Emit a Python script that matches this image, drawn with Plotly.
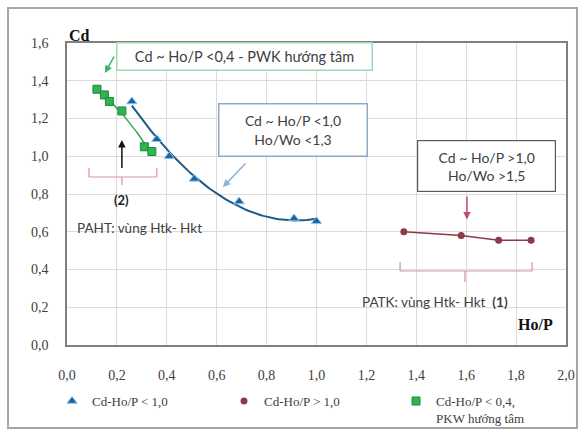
import numpy as np
import plotly.graph_objects as go

# ---- data ----
blue_x = [0.26, 0.36, 0.41, 0.51, 0.69, 0.91, 1.00]
blue_y = [1.29, 1.09, 1.00, 0.88, 0.76, 0.67, 0.655]

red_x = [1.35, 1.58, 1.73, 1.86]
red_y = [0.60, 0.58, 0.555, 0.555]

green_x = [0.12, 0.15, 0.17, 0.22, 0.31, 0.34]
green_y = [1.355, 1.325, 1.29, 1.24, 1.05, 1.025]

legend_names = ["Cd-Ho/P < 1,0", "Cd-Ho/P > 1,0", "Cd-Ho/P < 0,4,<br>PKW hướng tâm"]
x_ticks = [0.0, 0.2, 0.4, 0.6, 0.8, 1.0, 1.2, 1.4, 1.6, 1.8, 2.0]
y_ticks = [0.0, 0.2, 0.4, 0.6, 0.8, 1.0, 1.2, 1.4, 1.6]

# trendlines (polynomial fits, as in the spreadsheet chart)
bfit = np.polyfit(blue_x, blue_y, 2)
bx = np.linspace(min(blue_x), max(blue_x), 60)
by = np.polyval(bfit, bx)
gfit = np.polyfit(green_x, green_y, 2)
gx = np.linspace(min(green_x), max(green_x), 40)
gy = np.polyval(gfit, gx)

BLUE = "#1f62a0"
RED = "#8b3a48"
GREEN = "#2fb44f"
TXT = "#404040"
SANS = "Lato"
SERIF = "Liberation Serif"

fig = go.Figure()
fig.add_trace(go.Scatter(x=bx, y=by, mode="lines", line=dict(color="#1d5a85", width=2),
                         showlegend=False, hoverinfo="skip"))
fig.add_trace(go.Scatter(x=gx, y=gy, mode="lines", line=dict(color="#3aa655", width=1.5),
                         showlegend=False, hoverinfo="skip"))
fig.add_trace(go.Scatter(x=red_x, y=red_y, mode="lines", line=dict(color=RED, width=1.5),
                         showlegend=False, hoverinfo="skip"))
fig.add_trace(go.Scatter(x=blue_x, y=blue_y, mode="markers", name=legend_names[0],
                         marker=dict(symbol="triangle-up", size=9, color=BLUE,
                                     line=dict(color="#8cc8ec", width=1))))
fig.add_trace(go.Scatter(x=red_x, y=red_y, mode="markers", name=legend_names[1],
                         marker=dict(symbol="circle", size=7, color=RED)))
fig.add_trace(go.Scatter(x=green_x, y=green_y, mode="markers", name=legend_names[2],
                         marker=dict(symbol="square", size=8, color=GREEN,
                                     line=dict(color="#1e8a3a", width=1))))

annots = []
# text boxes
annots.append(dict(x=0.713, y=1.53, xref="x", yref="y", showarrow=False,
                   text="Cd ~ Ho/P <0,4 - PWK hướng tâm", font=dict(family=SANS, size=14.5, color=TXT),
                   bordercolor="#9ddbb0", borderwidth=1.5, borderpad=0, bgcolor="white",
                   width=254, height=26))
annots.append(dict(x=0.906, y=1.139, xref="x", yref="y", showarrow=False,
                   text="Cd ~ Ho/P <1,0<br>Ho/Wo <1,3", font=dict(family=SANS, size=14, color=TXT),
                   bordercolor="#8fa9c4", borderwidth=1.5, borderpad=0, bgcolor="white",
                   width=147, height=51))
annots.append(dict(x=1.683, y=0.946, xref="x", yref="y", showarrow=False,
                   text="Cd ~ Ho/P >1,0<br>Ho/Wo >1,5", font=dict(family=SANS, size=14, color=TXT),
                   bordercolor="#595959", borderwidth=1.2, borderpad=0, bgcolor="white",
                   width=137, height=50))
# arrows
for (hx, hy, tx, ty, col) in [(0.152, 1.441, 0.192, 1.536, "#3cb371"),
                               (0.625, 0.837, 0.721, 0.970, "#8fb3d3"),
                               (1.603, 0.665, 1.603, 0.795, "#c0506a"),
                               (0.22, 1.086, 0.22, 0.93, "#111111")]:
    annots.append(dict(x=hx, y=hy, ax=tx, ay=ty, xref="x", yref="y", axref="x", ayref="y",
                       text="", showarrow=True, arrowhead=2, arrowsize=1, arrowwidth=1.5,
                       arrowcolor=col, standoff=0))
# region labels
annots.append(dict(x=0.22, y=0.768, xref="x", yref="y", showarrow=False, text="<b>(2)</b>",
                   font=dict(family=SANS, size=13, color="#222222")))
annots.append(dict(x=0.032, y=0.62, xref="x", yref="y", showarrow=False, xanchor="left",
                   text="PAHT: vùng Htk- Hkt", font=dict(family=SANS, size=13.5, color=TXT)))
annots.append(dict(x=1.174, y=0.228, xref="x", yref="y", showarrow=False, xanchor="left",
                   text="PATK: vùng Htk- Hkt  <b>(1)</b>", font=dict(family=SANS, size=13.5, color=TXT)))
# axis titles
annots.append(dict(x=0.0, y=1.06, xref="paper", yref="paper", showarrow=False, xanchor="left",
                   text="<b>Cd</b>", font=dict(family=SERIF, size=16, color="#111111")))
annots.append(dict(x=1.876, y=0.106, xref="x", yref="y", showarrow=False,
                   text="<b>Ho/P</b>", font=dict(family=SERIF, size=16, color="#111111")))

shapes = []
BR = "#d9939b"
# bracket (2)
shapes += [
    dict(type="line", x0=0.088, x1=0.36, y0=0.89, y1=0.89, line=dict(color=BR, width=1.2)),
    dict(type="line", x0=0.088, x1=0.088, y0=0.89, y1=0.938, line=dict(color=BR, width=1.2)),
    dict(type="line", x0=0.36, x1=0.36, y0=0.89, y1=0.938, line=dict(color=BR, width=1.2)),
    dict(type="line", x0=0.22, x1=0.22, y0=0.89, y1=0.848, line=dict(color=BR, width=1.2)),
]
# bracket (1)
shapes += [
    dict(type="line", x0=1.335, x1=1.864, y0=0.392, y1=0.392, line=dict(color=BR, width=1.2)),
    dict(type="line", x0=1.335, x1=1.335, y0=0.392, y1=0.44, line=dict(color=BR, width=1.2)),
    dict(type="line", x0=1.864, x1=1.864, y0=0.392, y1=0.44, line=dict(color=BR, width=1.2)),
    dict(type="line", x0=1.595, x1=1.595, y0=0.392, y1=0.334, line=dict(color=BR, width=1.2)),
]
# outer chart border
shapes.append(dict(type="rect", xref="paper", yref="paper", x0=-0.1182, x1=1.022,
                   y0=-0.2748, y1=1.1159, line=dict(color="#a6a6a6", width=2), layer="below"))
for s in shapes:
    s.setdefault("xref", "x")
    s.setdefault("yref", "y")

fig.update_layout(
    width=579, height=431, autosize=False,
    margin=dict(l=67, r=13, t=43, b=86, autoexpand=False),
    paper_bgcolor="white", plot_bgcolor="white",
    separators=", ",
    annotations=annots, shapes=shapes,
    showlegend=True,
    legend=dict(orientation="h", x=-0.03, y=-0.136, xanchor="left", yanchor="top",
                valign="top", font=dict(family=SERIF, size=13, color=TXT),
                entrywidth=127, itemwidth=30, bgcolor="rgba(0,0,0,0)"),
    xaxis=dict(range=[0, 2], tickvals=x_ticks, tickformat=".1f", showgrid=True,
               gridcolor="#dcdcdc", gridwidth=1, zeroline=False, showline=True, mirror=True,
               linecolor="#7f7f7f", linewidth=1.5, ticks="", ticklabelstandoff=16,
               automargin=False, tickfont=dict(family=SERIF, size=14, color=TXT)),
    yaxis=dict(range=[0, 1.6], tickvals=y_ticks, tickformat=".1f", showgrid=True,
               gridcolor="#dcdcdc", gridwidth=1, zeroline=False, showline=True, mirror=True,
               linecolor="#7f7f7f", linewidth=1.5, ticks="", ticklabelstandoff=14,
               automargin=False, tickfont=dict(family=SERIF, size=14, color=TXT)),
)

fig.write_html("out.html")
